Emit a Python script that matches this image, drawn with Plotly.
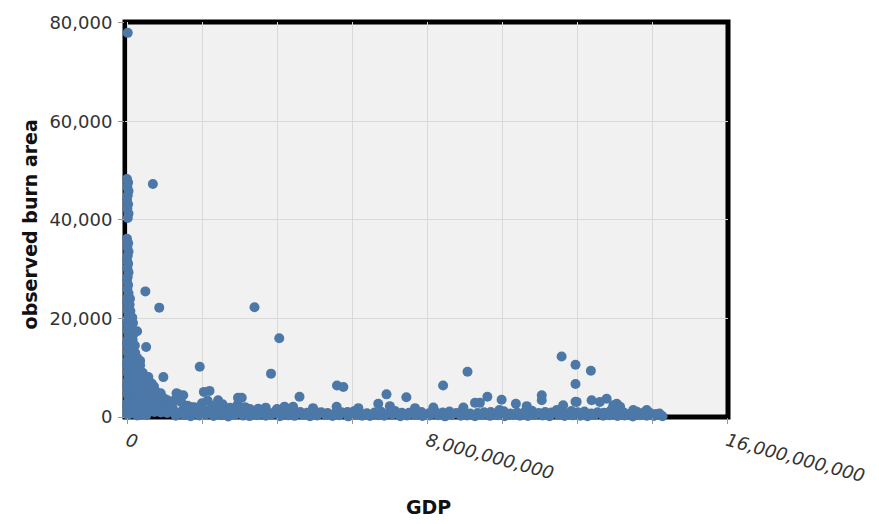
import plotly.graph_objects as go

# GDP values are stored in billions and converted below; burn area in the same order.
# Isolated high-burn observations
outlier_gdp_bn = [0.02, 0.69, 0.49, 0.86, 3.40, 4.06, 3.84, 1.94, 0.51, 0.27,
                  0.35, 0.57, 0.97, 0.66, 1.32, 1.50, 1.37, 2.05, 2.20, 2.43,
                  2.96, 3.06, 4.60, 5.60, 5.77, 6.92, 6.70, 7.45, 8.43, 9.08,
                  9.61, 9.99, 10.37, 11.06, 11.06, 11.59, 11.96, 11.96, 11.96, 11.63,
                  12.37, 12.39, 12.79, 13.06]
outlier_area = [78000, 47300, 25500, 22200, 22300, 16000, 8800, 10200, 14200, 17400,
                11400, 8100, 8100, 6800, 4800, 4400, 4600, 5100, 5300, 3400,
                3900, 3900, 4100, 6400, 6100, 4600, 2700, 4000, 6400, 9200,
                4100, 3500, 2700, 4400, 3400, 12300, 10600, 6700, 3100, 2400,
                9400, 3400, 3700, 2700]

# Low-GDP observations stacked near zero
column_gdp_bn = [0.00, 0.03, 0.01, 0.04, 0.02, 0.00, 0.03, 0.01, 0.04, 0.02,
                 0.00, 0.03, 0.01, 0.04, 0.02, 0.00, 0.03, 0.01, 0.04, 0.02,
                 0.00, 0.03, 0.01, 0.04, 0.02, 0.00, 0.03, 0.01, 0.04, 0.02,
                 0.00, 0.03, 0.01, 0.04, 0.02, 0.00, 0.03, 0.01, 0.04, 0.02,
                 0.00, 0.03, 0.01, 0.04, 0.02, 0.00, 0.03, 0.01, 0.04, 0.02,
                 0.00, 0.03, 0.01]
column_area = [48300, 47600, 46700, 45900, 45000, 44100, 43200, 42300, 41300, 40400,
               36200, 35300, 34500, 33600, 32800, 31900, 31100, 30200, 29400, 28500,
               27700, 26800, 26000, 25100, 24300, 23400, 22600, 21700, 20900, 20000,
               19200, 18300, 17500, 16600, 15800, 14900, 14100, 13200, 12400, 11500,
               10700, 9800, 9000, 8100, 7300, 6400, 5600, 4700, 3900, 3000,
               2200, 1300, 500]

# Small economies with moderate burn area
small_gdp_bn = [0.14, 0.16, 0.13, 0.17, 0.15, 0.14, 0.16, 0.13, 0.17, 0.15,
                0.14, 0.16, 0.13, 0.17, 0.15, 0.14, 0.16, 0.13,
                0.27, 0.29, 0.26, 0.30, 0.28, 0.27, 0.29, 0.26, 0.30, 0.28, 0.27,
                0.42, 0.44, 0.41, 0.43, 0.42, 0.44, 0.41,
                0.62, 0.64, 0.61, 0.63, 0.62,
                0.80, 0.82, 0.79, 0.81,
                1.00, 1.02, 0.99,
                1.15, 1.17,
                0.08, 0.07, 0.09, 0.08, 0.07, 0.09, 0.08, 0.07, 0.09, 0.08,
                0.07, 0.09, 0.08, 0.07, 0.09, 0.08, 0.07,
                0.21, 0.22, 0.20, 0.21, 0.22, 0.20, 0.21, 0.22, 0.20, 0.21,
                0.35, 0.36, 0.34, 0.35, 0.36, 0.34, 0.35, 0.36, 0.34,
                0.52, 0.53, 0.51, 0.52, 0.53, 0.51, 0.52,
                0.72, 0.73, 0.71, 0.72, 0.73,
                0.90, 0.91, 0.89, 0.90,
                1.08, 1.09, 1.07,
                1.22, 1.55, 1.72, 1.90, 2.25, 2.45, 2.65]
small_area = [20200, 19100, 18000, 16800, 15700, 14500, 13400, 12300, 11100, 10000,
              8900, 7700, 6600, 5500, 4300, 3200, 2100, 900,
              12000, 10800, 9600, 8400, 7200, 6000, 4800, 3600, 2400, 1200, 300,
              9000, 7600, 6200, 4800, 3400, 2000, 700,
              6500, 5200, 3900, 2600, 1300,
              5000, 3800, 2600, 1400,
              3700, 2500, 1300,
              2900, 1700,
              24000, 22800, 21500, 19800, 18500, 17000, 15500, 14000, 12500, 11000,
              9500, 8000, 6500, 5000, 3500, 2000, 600,
              14500, 13000, 11500, 10000, 8500, 7000, 5500, 4000, 2500, 1000,
              10500, 9200, 7900, 6600, 5300, 4000, 2700, 1400, 400,
              8000, 6700, 5400, 4100, 2800, 1500, 400,
              6200, 4900, 3600, 2300, 1000,
              4800, 3500, 2200, 900,
              3400, 2100, 800,
              1800, 1600, 2000, 1500, 1600, 1400, 1300]

# Bulk of observations with burn area below a few thousand
low_gdp_bn = [1.30, 1.52, 1.70, 1.93, 2.10, 2.31, 2.52, 2.70, 2.88, 3.10,
              3.27, 3.48, 3.70, 3.86, 4.08, 4.30, 4.47, 4.69, 4.88, 5.07,
              5.30, 5.48, 5.66, 5.90, 6.08, 6.27, 6.48, 6.69, 6.86, 7.08,
              7.29, 7.47, 7.68, 7.88, 8.07, 8.29, 8.48, 8.66, 8.90, 9.07,
              9.28, 9.47, 9.68, 9.88, 10.07, 10.29, 10.48, 10.69, 10.87, 11.08,
              11.27, 11.50, 11.67, 11.88, 12.09, 12.28, 12.47, 12.70, 12.87, 13.08,
              13.27, 13.49, 13.68, 13.86, 14.05, 14.28,
              1.45, 1.82, 2.15, 2.55, 2.85, 3.20, 3.58, 3.95, 4.25, 4.62,
              5.00, 5.35, 5.72, 6.05, 6.40, 6.78, 7.15, 7.52, 7.85, 8.25,
              8.60, 8.95, 9.35, 9.70, 10.05, 10.40, 10.80, 11.15, 11.50, 11.85,
              12.20, 12.55, 12.90, 13.25, 13.60, 13.95, 14.20,
              1.62, 2.00, 2.35, 2.70, 3.02, 3.40, 3.76, 4.10, 4.44, 4.80,
              5.18, 5.54, 5.88, 6.22, 6.60, 6.96, 7.33, 7.70, 8.05, 8.42,
              8.78, 9.15, 9.52, 9.88, 10.22, 10.60, 10.98, 11.32, 11.68, 12.02,
              12.38, 12.72, 13.08, 13.42, 13.78, 14.10]
low_area = [250, 400, 150, 320, 500, 200, 350, 120, 450, 280,
            180, 380, 260, 520, 140, 330, 230, 470, 160, 300,
            410, 210, 350, 130, 440, 270, 190, 360, 240, 500,
            150, 320, 420, 200, 290, 380, 130, 460, 250, 310,
            170, 400, 230, 350, 140, 480, 260, 200, 390, 300,
            150, 440, 210, 330, 270, 160, 410, 240, 350, 190,
            300, 120, 380, 260, 200, 150,
            1100, 900, 1300, 800, 1000, 1200, 700, 1100, 900, 1000,
            1250, 800, 950, 1150, 750, 1050, 1200, 850, 1000, 900,
            1100, 1300, 800, 1000, 1150, 900, 1250, 1000, 850, 1200,
            1100, 950, 1300, 900, 1050, 800, 700,
            800, 1000, 700, 950, 850, 650, 900, 1000, 750, 850,
            950, 700, 1000, 800, 900, 650, 850, 1000, 750, 900,
            800, 700, 950, 850, 700, 1000, 800, 900, 750, 950,
            700, 850, 800, 650, 900, 600]

# Observations just above the dense band
mid_gdp_bn = [3.28, 4.43, 4.96, 5.59, 6.17, 7.01, 7.68, 8.17, 8.97, 9.28,
              9.41, 9.93, 10.66, 11.46, 11.99, 12.61, 12.97, 13.15, 13.50, 13.86,
              1.25, 1.45, 1.62, 1.80, 2.00, 2.15, 2.30, 2.55, 2.75, 2.95,
              3.15, 3.50, 3.70, 4.00, 4.20]
mid_area = [1600, 2070, 1800, 2070, 1800, 2200, 1800, 1930, 1930, 2870,
            2870, 1400, 2200, 1400, 3070, 3070, 2400, 2070, 1400, 1400,
            3300, 3000, 2300, 2000, 2800, 3300, 2300, 2600, 1900, 2500,
            2000, 1700, 1900, 1600, 2100]

gdp_bn = outlier_gdp_bn + column_gdp_bn + small_gdp_bn + low_gdp_bn + mid_gdp_bn
burn_area = outlier_area + column_area + small_area + low_area + mid_area
assert len(gdp_bn) == len(burn_area)
gdp = [v * 1e9 for v in gdp_bn]

x_tick_vals = [0, 2e9, 4e9, 6e9, 8e9, 10e9, 12e9, 14e9, 16e9]
x_tick_text = ["0", "", "", "", "8,000,000,000", "", "", "", "16,000,000,000"]
y_tick_vals = [0, 20000, 40000, 60000, 80000]

FONT = "DejaVu Sans"
POINT_COLOR = "#4c78a8"

fig = go.Figure(
    go.Scatter(
        x=gdp,
        y=burn_area,
        mode="markers",
        marker=dict(size=10, color=POINT_COLOR, line=dict(width=0)),
        cliponaxis=False,
        hovertemplate="GDP: %{x:,}<br>observed burn area: %{y:,}<extra></extra>",
    )
)

fig.update_layout(
    width=879,
    height=524,
    margin=dict(l=125, r=151, t=15, b=107),
    paper_bgcolor="white",
    plot_bgcolor="#f1f1f1",
    showlegend=False,
    font=dict(family=FONT, color="#333333"),
)

fig.update_xaxes(
    range=[-0.0533e9, 16.0267e9],
    tickmode="array",
    tickvals=x_tick_vals,
    ticktext=x_tick_text,
    tickangle=15,
    tickfont=dict(family=FONT, size=18, style="italic", color="#333333"),
    ticks="outside",
    ticklen=6,
    tickcolor="#999999",
    showgrid=True,
    gridcolor="#d9d9d9",
    gridwidth=1,
    zeroline=False,
    showline=False,
)

fig.update_yaxes(
    range=[0, 80200],
    tickmode="array",
    tickvals=y_tick_vals,
    tickformat=",d",
    tickfont=dict(family=FONT, size=18, color="#333333"),
    ticks="outside",
    ticklen=6,
    tickcolor="#999999",
    ticklabelstandoff=2,
    showgrid=True,
    gridcolor="#d9d9d9",
    gridwidth=1,
    zeroline=False,
    showline=False,
)

# Heavy frame around the plotting area, beneath the points
fig.add_shape(
    type="rect", xref="paper", yref="paper", x0=0, x1=1, y0=0, y1=1,
    line=dict(color="black", width=5), fillcolor="rgba(0,0,0,0)", layer="between",
)

# Axis titles
fig.add_annotation(
    text="observed burn area", xref="paper", yref="paper",
    x=(30 - 125) / 603, y=(417 - 221) / 402, textangle=-90,
    showarrow=False, xanchor="center", yanchor="middle",
    font=dict(family=FONT, size=19, weight="bold", color="#111111"),
)
fig.add_annotation(
    text="GDP", xref="paper", yref="paper",
    x=(428 - 125) / 603, y=(417 - 509) / 402,
    showarrow=False, xanchor="center", yanchor="middle",
    font=dict(family=FONT, size=19, weight="bold", color="#111111"),
)

fig.write_html("out.html")
